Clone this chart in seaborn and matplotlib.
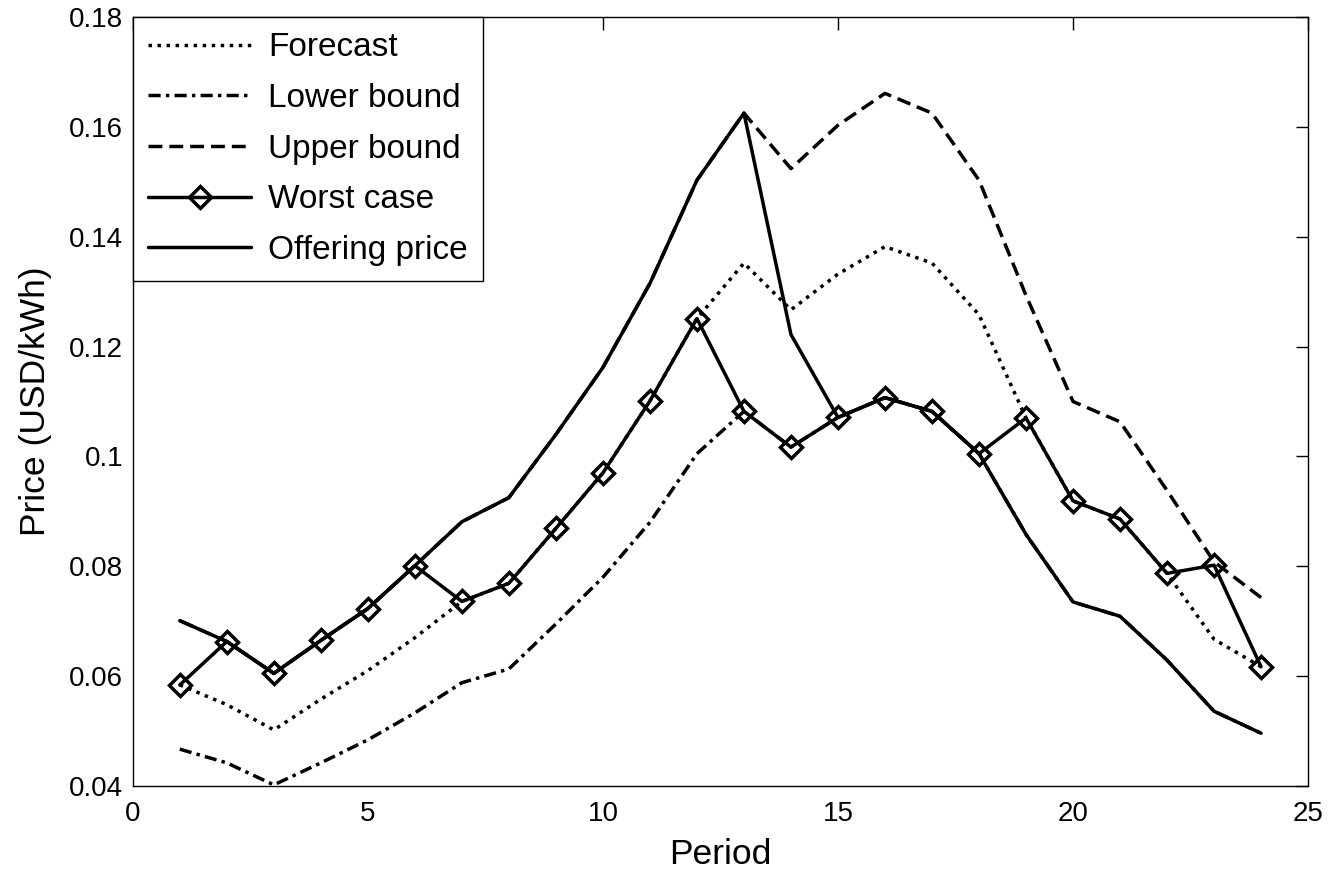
import numpy as np
import pandas as pd
import matplotlib
matplotlib.use('Agg')
import matplotlib.pyplot as plt
import seaborn as sns

############
# Data
############
period = list(range(1, 25))
forecast = [0.0584, 0.0548, 0.0502, 0.0558, 0.0610, 0.0670, 0.0736, 0.0769,
            0.0869, 0.0970, 0.1101, 0.1251, 0.1352, 0.1267, 0.1332, 0.1382,
            0.1352, 0.1258, 0.1070, 0.0919, 0.0886, 0.0787, 0.0667, 0.0617]
lower_bound = [0.0467, 0.0442, 0.0402, 0.0442, 0.0484, 0.0533, 0.0588, 0.0613,
               0.0695, 0.0780, 0.0880, 0.1005, 0.1082, 0.1017, 0.1071, 0.1107,
               0.1082, 0.1005, 0.0858, 0.0735, 0.0709, 0.0629, 0.0536, 0.0496]
upper_bound = [0.0701, 0.0663, 0.0605, 0.0665, 0.0723, 0.0801, 0.0881, 0.0925,
               0.1040, 0.1162, 0.1315, 0.1503, 0.1625, 0.1524, 0.1603, 0.1661,
               0.1625, 0.1503, 0.1293, 0.1100, 0.1063, 0.0938, 0.0808, 0.0743]
worst_case = [0.0584, 0.0663, 0.0605, 0.0665, 0.0723, 0.0801, 0.0736, 0.0769,
              0.0869, 0.0970, 0.1101, 0.1251, 0.1082, 0.1017, 0.1071, 0.1107,
              0.1082, 0.1005, 0.1070, 0.0919, 0.0886, 0.0787, 0.0802, 0.0617]
offering_price = [0.0701, 0.0663, 0.0605, 0.0665, 0.0723, 0.0801, 0.0881, 0.0925,
                  0.1040, 0.1162, 0.1315, 0.1503, 0.1625, 0.1222, 0.1071, 0.1107,
                  0.1082, 0.1005, 0.0858, 0.0735, 0.0709, 0.0629, 0.0536, 0.0496]

data = pd.DataFrame({
    'Period': period,
    'Forecast': forecast,
    'Lower bound': lower_bound,
    'Upper bound': upper_bound,
    'Worst case': worst_case,
    'Offering price': offering_price,
})

############
# Style
############
sns.set_style('white')
plt.rcParams['font.family'] = ['Liberation Sans', 'DejaVu Sans']
plt.rcParams['text.color'] = 'k'
plt.rcParams['axes.labelcolor'] = 'k'
plt.rcParams['xtick.color'] = 'k'
plt.rcParams['ytick.color'] = 'k'
plt.rcParams['xtick.direction'] = 'in'
plt.rcParams['ytick.direction'] = 'in'
plt.rcParams['xtick.top'] = True
plt.rcParams['ytick.right'] = True

LW = 2.5
styles = {
    'Forecast': dict(linestyle=(0, (1, 1.6))),
    'Lower bound': dict(linestyle=(0, (3.5, 1.5, 1, 1.5))),
    'Upper bound': dict(linestyle=(0, (4, 2))),
    'Worst case': dict(linestyle='-', marker='D', markersize=11, markeredgewidth=2.5,
                       markerfacecolor='none', markeredgecolor='k'),
    'Offering price': dict(linestyle='-'),
}

fig = plt.figure(figsize=(13.28, 8.73), dpi=100)
ax = fig.add_axes([0.1, 0.0997, 0.885, 0.8808])

for name, kw in styles.items():
    sns.lineplot(data=data, x='Period', y=name, ax=ax, color='k', linewidth=LW,
                 label=name, **kw)

ax.set_xlim(0, 25)
ax.set_ylim(0.04, 0.18)
ax.set_xticks([0, 5, 10, 15, 20, 25])
ax.set_yticks([0.04, 0.06, 0.08, 0.1, 0.12, 0.14, 0.16, 0.18])
ax.set_yticklabels(['0.04', '0.06', '0.08', '0.1', '0.12', '0.14', '0.16', '0.18'])
ax.tick_params(axis='both', labelsize=20, length=9, width=1)
ax.tick_params(axis='x', pad=11)
ax.tick_params(axis='y', pad=7)
ax.set_xlabel('Period', fontsize=25.5, labelpad=8)
ax.set_ylabel('Price (USD/kWh)', fontsize=25.5, labelpad=12)
for s in ax.spines.values():
    s.set_color('k')
    s.set_linewidth(1)

leg = ax.legend(loc='upper left', fontsize=24, frameon=True, fancybox=False,
                framealpha=1, edgecolor='k', borderaxespad=0, handlelength=3.1,
                handletextpad=0.5, labelspacing=0.59, borderpad=0.46)
leg.get_frame().set_linewidth(1)
for t in leg.get_texts():
    t.set_color('k')

fig.savefig('out.png', dpi=100)
